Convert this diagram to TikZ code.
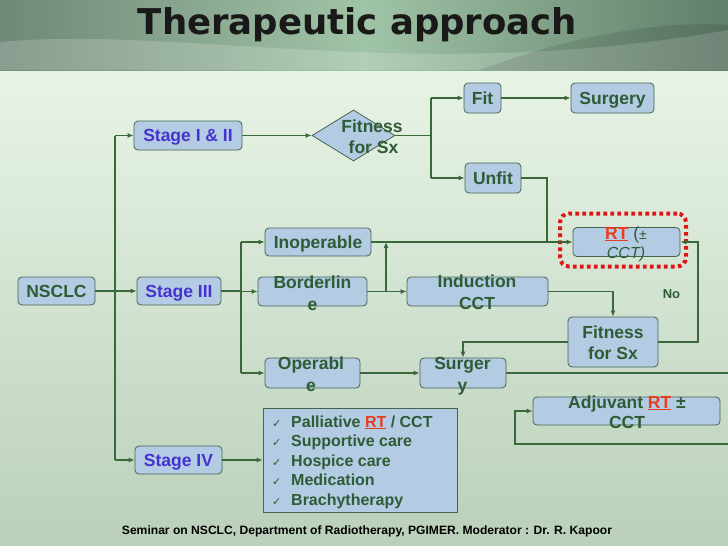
\documentclass[tikz,border=0pt]{standalone}
\usepackage{fontspec}
\setmainfont{Liberation Sans}
\newfontfamily\titlefont{DejaVu Sans}
\newfontfamily\symfont{DejaVu Sans}
\usetikzlibrary{arrows.meta,shapes.geometric}
\definecolor{boxfill}{RGB}{180,203,228}
\definecolor{boxline}{RGB}{70,100,78}
\definecolor{txtg}{RGB}{46,92,52}
\definecolor{stageblue}{RGB}{68,51,204}
\definecolor{conncol}{RGB}{58,104,58}
\definecolor{rtred}{RGB}{232,62,30}
\definecolor{hlred}{RGB}{225,20,20}
\definecolor{bodytop}{RGB}{232,244,230}
\definecolor{bodybot}{RGB}{186,208,186}
\definecolor{hdrL}{RGB}{112,136,120}
\definecolor{hdrM}{RGB}{160,196,166}
\definecolor{hdrR}{RGB}{96,126,106}
\tikzset{
  box/.style={draw=boxline, fill=boxfill, rounded corners=4pt, line width=0.8pt,
    inner sep=0pt, text=txtg, font=\bfseries\fontsize{17.5}{21}\selectfont,
    text height=12.6pt, text depth=0pt},
  stagebox/.style={box, text=stageblue},
  lbl/.style={text=txtg, font=\bfseries\fontsize{17.5}{21}\selectfont, inner sep=0pt, anchor=base},
  bul/.style={text=txtg, font=\bfseries\fontsize{16}{19}\selectfont, inner sep=0pt, anchor=base west},
  chk/.style={text=txtg, font=\symfont\fontsize{11}{13}\selectfont, inner sep=0pt, anchor=base west},
  conn/.style={draw=conncol, line width=1.1pt},
  arr/.style={conn, -{Latex[length=6pt,width=5pt]}},
}
\begin{document}
\begin{tikzpicture}[x=1pt,y=-1pt]
\useasboundingbox (0,0) rectangle (728,546);
\clip (0,0) rectangle (728,546);
% background
\shade[top color=bodytop, bottom color=bodybot] (0,70) rectangle (728,546);
\shade[left color=hdrL, right color=hdrR, middle color=hdrM] (0,0) rectangle (728,70);
\fill[white, opacity=0.18] (0,42) .. controls (180,25) and (420,85) .. (728,30) -- (728,70) -- (0,70) -- cycle;
\fill[black, opacity=0.10] (480,70) .. controls (560,40) and (650,20) .. (728,25) -- (728,70) -- cycle;

% title and footer
\node[font=\titlefont\bfseries\fontsize{35.5}{40}\selectfont, text=black!90, anchor=base, inner sep=0pt] (title) at (357.5,34) {Therapeutic approach};
\node[font=\bfseries\fontsize{12.1}{14}\selectfont, anchor=base, inner sep=0pt] (foot) at (367,534) {Seminar on NSCLC, Department of Radiotherapy, PGIMER. Moderator : Dr. R. Kapoor};

% boxes
\node[box, minimum width=77pt, minimum height=28pt] (nsclc) at (56.5,291) {NSCLC};
\node[stagebox, minimum width=108pt, minimum height=29pt] (stage12) at (188,135.5) {Stage I \& II};
\node[stagebox, minimum width=84pt, minimum height=28pt] (stage3) at (179,291) {Stage III};
\node[stagebox, minimum width=87pt, minimum height=28pt] (stage4) at (178.5,460) {Stage IV};

\node[diamond, draw=boxline, fill=boxfill, line width=0.8pt, inner sep=0pt, minimum width=83pt, minimum height=51pt] (dia) at (353.5,135.5) {};
\node[lbl] (diat1) at (372,132) {Fitness};
\node[lbl] (diat2) at (373.5,153) {for Sx};

\node[box, minimum width=37pt, minimum height=30pt] (fit) at (482.5,98) {Fit};
\node[box, minimum width=83pt, minimum height=30pt] (surg1) at (612.5,98) {Surgery};
\node[box, minimum width=56pt, minimum height=30pt] (unfit) at (493,178) {Unfit};

\node[box, minimum width=106pt, minimum height=28pt] (inop) at (318,242) {Inoperable};
\node[box, minimum width=109pt, minimum height=29pt] (border) at (312.5,291.5) {};
\node[lbl] (bordt1) at (312.5,288) {Borderlin};
\node[lbl] (bordt2) at (312.5,310) {e};
\node[box, minimum width=141pt, minimum height=29pt] (induct) at (477.5,291.5) {};
\node[lbl] (indt1) at (477,287) {Induction};
\node[lbl] (indt2) at (477,309) {CCT};

\node[box, minimum width=107pt, minimum height=29pt] (rt) at (626.5,242) {};
\node[lbl] (rtt1) at (626,239) {\textcolor{rtred}{\underline{RT}} {\mdseries(\fontsize{14}{16}\selectfont ±}};
\node[lbl, font=\mdseries\itshape\fontsize{16}{19}\selectfont] (rtt2) at (626,258) {CCT)};
\node[draw=hlred, line width=4pt, dash pattern=on 3.6pt off 3.4pt, rounded corners=9pt, minimum width=126pt, minimum height=53pt, inner sep=0pt] (hl) at (623,240) {};

\node[box, minimum width=90pt, minimum height=50pt] (fit2) at (613,342) {};
\node[lbl] (fit2t1) at (613,338) {Fitness};
\node[lbl] (fit2t2) at (613,359) {for Sx};
\node[font=\bfseries\fontsize{13}{15}\selectfont, text=txtg, anchor=base, inner sep=0pt] (no) at (671.5,298) {No};

\node[box, minimum width=95pt, minimum height=30pt] (oper) at (312.5,373) {};
\node[lbl] (opert1) at (311,369) {Operabl};
\node[lbl] (opert2) at (311,391) {e};
\node[box, minimum width=86pt, minimum height=30pt] (surg2) at (463,373) {};
\node[lbl] (surgt1) at (462.5,369) {Surger};
\node[lbl] (surgt2) at (462.5,391) {y};

\node[box, minimum width=187pt, minimum height=28pt] (adj) at (626.5,411) {};
\node[lbl] (adjt1) at (627,408) {Adjuvant \textcolor{rtred}{\underline{RT}} ±};
\node[lbl] (adjt2) at (627,428) {CCT};

\node[draw=boxline, fill=boxfill, line width=0.8pt, inner sep=0pt, minimum width=194pt, minimum height=104pt] (pal) at (360,460) {};
\node[chk] (c1) at (272,427) {✓};
\node[chk] (c2) at (272,446.5) {✓};
\node[chk] (c3) at (272,466) {✓};
\node[chk] (c4) at (272,485.5) {✓};
\node[chk] (c5) at (272,505) {✓};
\node[bul] (p1) at (291,427) {Palliative \textcolor{rtred}{\underline{RT}} / CCT};
\node[bul] (p2) at (291,446.5) {Supportive care};
\node[bul] (p3) at (291,466) {Hospice care};
\node[bul] (p4) at (291,485.5) {Medication};
\node[bul] (p5) at (291,505) {Brachytherapy};

% junction coordinates
\coordinate (trunk) at (115,0);
\coordinate (b3) at (241,0);
\coordinate (dj) at (431,135.5);
\coordinate (bj) at (386,291.5);
\coordinate (ux) at (547,0);
\coordinate (nox) at (698,0);
\coordinate (off) at (745,0);
\coordinate (lp) at (515,444);

% connectors
\draw[conn] (trunk |- stage12) -- (trunk |- stage4);
\draw[arr] (trunk |- stage12) -- (stage12.west);
\draw[arr] (trunk |- stage4) -- (stage4.west);
\draw[arr] (nsclc.east) -- (stage3.west);

\draw[conn] (stage3.east) -- (b3 |- stage3);
\draw[conn] (b3 |- inop) -- (b3 |- oper);
\draw[arr] (b3 |- inop) -- (inop.west);
\draw[arr] (b3 |- border) -- (border.west);
\draw[arr] (b3 |- oper) -- (oper.west);

\draw[arr] (stage12.east) -- (dia.west);
\draw[conn] (dia.east) -- (dj);
\draw[conn] (dj |- fit) -- (dj |- unfit);
\draw[arr] (dj |- fit) -- (fit.west);
\draw[arr] (dj |- unfit) -- (unfit.west);
\draw[arr] (fit.east) -- (surg1.west);

\draw[conn] (unfit.east) -- (ux |- unfit) -- (ux |- rt);
\draw[arr] (inop.east) -- (rt.west);
\draw[conn] (border.east) -- (bj);
\draw[arr] (bj) -- (induct.west);
\draw[arr] (bj) -- (bj |- inop);

\draw[arr] (induct.east) -| (fit2.north);
\draw[arr] (fit2.east) -- (nox |- fit2) -- (nox |- rt) -- (rt.east);
\draw[arr] (fit2.west) -| (surg2.north);
\draw[arr] (oper.east) -- (surg2.west);
\draw[arr] (surg2.east) -- (off |- surg2) -- (off |- lp) -- (lp) -- (lp |- adj) -- (adj.west);

\draw[arr] (stage4.east) -- (pal.west);
\end{tikzpicture}
\end{document}
